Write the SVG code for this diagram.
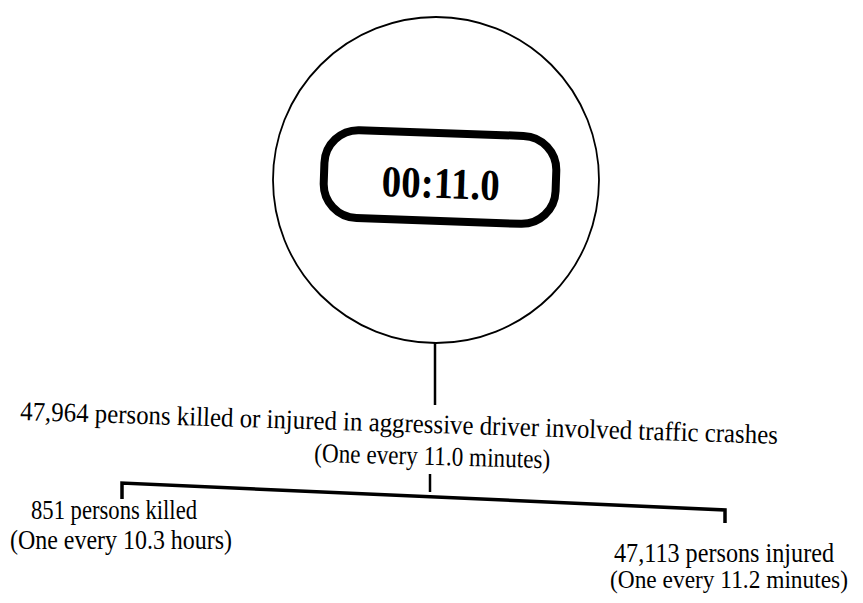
<svg xmlns="http://www.w3.org/2000/svg" width="863" height="603" viewBox="0 0 863 603">
<style>
  .t { font-family: "Liberation Serif", "Times New Roman", serif; font-size: 27px; fill: #000; }
  .c { stroke: #000; fill: none; stroke-linecap: butt; }
</style>
<rect width="863" height="603" fill="#fff"/>
<g id="clock">
  <circle cx="436" cy="180" r="163" fill="none" stroke="#000" stroke-width="1.8"/>
  <g transform="rotate(2 440 177)">
    <rect x="324" y="133" width="232" height="88" rx="34" ry="34" fill="none" stroke="#000" stroke-width="8"/>
    <text x="441" y="198" text-anchor="middle" style="font-family:'Liberation Serif','Times New Roman',serif;font-weight:bold;font-size:44px" textLength="118" lengthAdjust="spacingAndGlyphs">00:11.0</text>
  </g>
</g>
<g id="total">
  <text class="t" transform="rotate(1.8 20 420)" x="20" y="420" textLength="758" lengthAdjust="spacingAndGlyphs">47,964 persons killed or injured in aggressive driver involved traffic crashes</text>
  <text class="t" transform="rotate(1.5 432 465)" x="432" y="465" text-anchor="middle" textLength="236" lengthAdjust="spacingAndGlyphs">(One every 11.0 minutes)</text>
</g>
<g id="killed">
  <text class="t" x="114" y="519" text-anchor="middle" textLength="166" lengthAdjust="spacingAndGlyphs">851 persons killed</text>
  <text class="t" x="121" y="549" text-anchor="middle" textLength="222" lengthAdjust="spacingAndGlyphs">(One every 10.3 hours)</text>
</g>
<g id="injured">
  <text class="t" x="834" y="562" text-anchor="end" textLength="220" lengthAdjust="spacingAndGlyphs">47,113 persons injured</text>
  <text class="t" x="848" y="588" text-anchor="end" style="font-size:25px" textLength="238" lengthAdjust="spacingAndGlyphs">(One every 11.2 minutes)</text>
</g>
<g id="connectors">
  <line class="c" x1="435" y1="343" x2="435" y2="405" stroke-width="2.5"/>
  <line class="c" x1="430" y1="474" x2="430" y2="492" stroke-width="2.5"/>
  <polyline class="c" points="122,499 122,483 725,510 725,523" stroke-width="3.5"/>
</g>
</svg>
